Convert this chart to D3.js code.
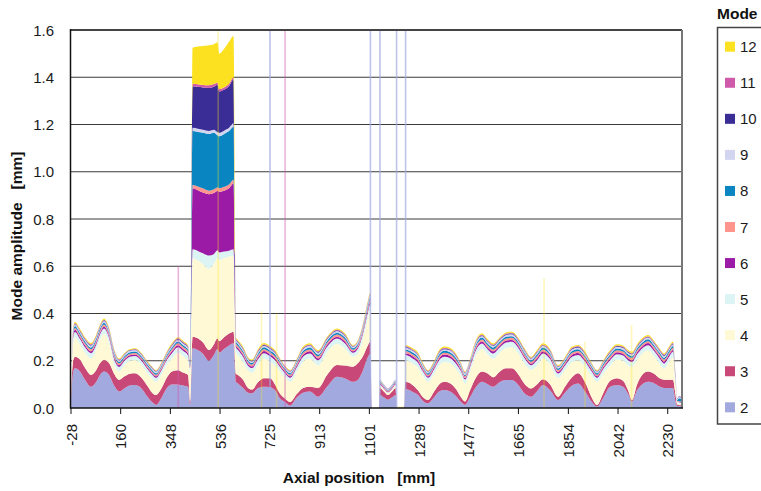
<!DOCTYPE html>
<html>
<head>
<meta charset="utf-8">
<script src="https://cdn.jsdelivr.net/npm/d3@7"></script>
<style>
  html, body { margin: 0; padding: 0; background: #fff; }
  svg { display: block; font-family: "Liberation Sans", Arial, Helvetica, sans-serif; }
</style>
</head>
<body>
<svg id="chart" width="761" height="491"></svg>
<script>
// Axial sample positions [mm]
const positions = [
  -28, -20, -13, 6, 25, 48, 67, 82, 97, 116,
  135, 154, 176, 195, 214, 237, 260, 279, 294, 313,
  335, 354, 377, 396, 415, 423, 432, 452, 471, 494,
  513, 526, 533, 551, 570, 587, 596, 604, 623, 642,
  657, 680, 702, 725, 744, 763, 782, 801, 827, 850,
  876, 907, 941, 979, 1009, 1039, 1058, 1077, 1096, 1105,
  1110, 1137, 1141, 1156, 1171, 1187, 1200, 1205, 1232, 1237,
  1262, 1285, 1304, 1323, 1346, 1365, 1384, 1406, 1429, 1448,
  1463, 1482, 1505, 1527, 1550, 1569, 1595, 1618, 1641, 1663,
  1690, 1713, 1735, 1758, 1785, 1815, 1841, 1868, 1891, 1917,
  1940, 1963, 1985, 2012, 2038, 2061, 2080, 2095, 2114, 2133,
  2156, 2178, 2201, 2216, 2235, 2250, 2259, 2266, 2273, 2283
];

// Modal amplitudes [mm] per mode, one value per axial position
const mode2 = [
  .035, .15, .168, .155, .12, .09, .11, .14, .154, .14,
  .095, .07, .085, .095, .097, .085, .05, .025, .013, .04,
  .085, .10, .10, .095, .09, .015, .253, .245, .23, .20,
  .225, .25, .235, .25, .265, .274, .11, .104, .085, .065,
  .062, .085, .09, .088, .075, .04, .025, .01, .045, .065,
  .07, .048, .09, .132, .125, .111, .12, .16, .217, .23,
  0, 0, .055, .045, .035, .045, .055, 0, 0, .08,
  .07, .055, .03, .02, .045, .07, .076, .07, .05, .025,
  .013, .045, .09, .111, .10, .09, .11, .118, .118, .10,
  .06, .048, .07, .097, .075, .034, .065, .095, .104, .07,
  .03, .006, .04, .09, .097, .09, .06, .028, .075, .10,
  .111, .105, .09, .085, .085, .085, .03, .008, .01, .01
];
const mode3 = [
  .010, .05, .049, .05, .05, .05, .05, .05, .049, .05,
  .05, .049, .05, .05, .05, .045, .045, .04, .042, .04,
  .045, .055, .06, .055, .05, .015, .049, .05, .048, .045,
  .045, .045, .048, .05, .05, .049, .035, .036, .035, .02,
  .016, .025, .036, .038, .025, .02, .015, .015, .015, .02,
  .02, .037, .05, .05, .055, .064, .07, .06, .05, .05,
  0, 0, .03, .025, .02, .025, .03, 0, 0, .031,
  .03, .02, .015, .014, .025, .03, .035, .035, .03, .02,
  .014, .03, .04, .043, .045, .04, .045, .05, .05, .045,
  .04, .035, .03, .025, .025, .014, .025, .035, .043, .04,
  .02, .007, .02, .025, .029, .025, .015, .006, .025, .04,
  .043, .04, .035, .035, .035, .035, .03, .007, .004, .004
];
const mode4 = [
  .005, .075, .083, .065, .065, .07, .085, .10, .111, .085,
  .04, .036, .05, .055, .056, .055, .055, .06, .056, .06,
  .055, .055, .075, .07, .06, .12, .332, .33, .332, .345,
  .342, .34, .342, .335, .325, .322, .09, .083, .075, .075,
  .072, .075, .084, .071, .08, .095, .09, .086, .095, .11,
  .119, .095, .097, .09, .071, .042, .043, .073, .115, .135,
  0, 0, .01, .008, .008, .008, .01, .008, .008, .091,
  .09, .095, .09, .077, .075, .08, .084, .085, .085, .09,
  .077, .08, .095, .097, .08, .079, .08, .087, .09, .09,
  .085, .079, .08, .087, .085, .079, .07, .065, .055, .065,
  .09, .098, .085, .065, .079, .085, .105, .139, .105, .09,
  .09, .075, .06, .046, .075, .096, .05, .008, .004, .004
];
const mode5 = [
  .003, .022, .022, .022, .022, .022, .022, .022, .022, .022,
  .022, .019, .017, .017, .017, .017, .017, .017, .017, .017,
  .019, .022, .022, .022, .022, .017, .038, .040, .045, .055,
  .040, .033, .033, .027, .026, .027, .022, .022, .022, .019,
  .019, .022, .022, .022, .022, .019, .017, .017, .019, .022,
  .022, .022, .022, .022, .022, .017, .019, .022, .025, .025,
  0, 0, .005, .004, .004, .004, .005, 0, 0, .022,
  .022, .022, .019, .017, .019, .022, .022, .022, .022, .019,
  .017, .019, .022, .022, .022, .022, .022, .022, .022, .022,
  .022, .019, .022, .022, .022, .019, .019, .022, .022, .022,
  .019, .017, .019, .022, .022, .022, .022, .022, .022, .022,
  .022, .022, .022, .022, .022, .022, .017, .004, .006, .005
];
const mode6 = [
  .001, .008, .009, .008, .009, .008, .009, .008, .009, .008,
  .009, .007, .006, .006, .006, .006, .006, .006, .006, .006,
  .007, .008, .009, .008, .009, .006, .258, .257, .257, .260,
  .258, .250, .257, .258, .264, .278, .008, .009, .008, .007,
  .007, .008, .009, .008, .009, .007, .006, .006, .007, .008,
  .009, .008, .009, .008, .009, .006, .007, .008, .010, .010,
  0, 0, .004, .004, .003, .004, .004, 0, 0, .008,
  .009, .008, .007, .006, .007, .008, .009, .008, .009, .007,
  .006, .007, .008, .009, .008, .009, .008, .009, .008, .009,
  .008, .007, .008, .009, .008, .007, .007, .008, .009, .008,
  .007, .006, .007, .008, .009, .008, .009, .008, .009, .008,
  .009, .008, .009, .008, .009, .008, .006, .002, .002, .002
];
const mode7 = [
  .001, .009, .008, .009, .008, .009, .008, .009, .008, .009,
  .008, .008, .007, .007, .007, .007, .007, .007, .007, .007,
  .008, .009, .008, .009, .008, .007, .014, .016, .018, .015,
  .016, .015, .015, .016, .016, .016, .009, .008, .009, .008,
  .008, .009, .008, .009, .008, .008, .007, .007, .008, .009,
  .008, .009, .008, .009, .008, .007, .008, .009, .010, .010,
  0, 0, .004, .004, .004, .004, .004, 0, 0, .009,
  .008, .009, .008, .007, .008, .009, .008, .009, .008, .008,
  .007, .008, .009, .008, .009, .008, .009, .008, .009, .008,
  .009, .008, .009, .008, .009, .008, .008, .009, .008, .009,
  .008, .007, .008, .009, .008, .009, .008, .009, .008, .009,
  .008, .009, .008, .009, .008, .009, .007, .002, .003, .003
];
const mode8 = [
  .001, .007, .008, .007, .008, .007, .008, .007, .008, .007,
  .008, .006, .006, .006, .006, .006, .006, .006, .006, .006,
  .006, .007, .008, .007, .008, .006, .228, .230, .235, .240,
  .239, .222, .220, .224, .226, .224, .007, .008, .007, .006,
  .006, .007, .008, .007, .008, .006, .006, .006, .006, .007,
  .008, .007, .008, .007, .008, .006, .006, .007, .009, .009,
  0, 0, .004, .003, .003, .003, .004, 0, 0, .007,
  .008, .007, .006, .006, .006, .007, .008, .007, .008, .006,
  .006, .006, .007, .008, .007, .008, .007, .008, .007, .008,
  .007, .006, .007, .008, .007, .006, .006, .007, .008, .007,
  .006, .006, .006, .007, .008, .007, .008, .007, .008, .007,
  .008, .007, .008, .007, .008, .007, .006, .004, .012, .010
];
const mode9 = [
  .002, .008, .007, .008, .007, .008, .007, .008, .007, .008,
  .007, .007, .007, .007, .007, .007, .007, .007, .007, .007,
  .007, .008, .007, .008, .007, .007, .014, .014, .013, .013,
  .013, .013, .015, .014, .014, .015, .008, .007, .008, .007,
  .007, .008, .007, .008, .007, .007, .007, .007, .007, .008,
  .007, .008, .007, .008, .007, .007, .007, .008, .009, .009,
  0, 0, .005, .004, .004, .004, .004, 0, 0, .008,
  .007, .008, .007, .007, .007, .008, .007, .008, .007, .007,
  .007, .007, .008, .007, .008, .007, .008, .007, .008, .007,
  .008, .007, .008, .007, .008, .007, .007, .008, .007, .008,
  .007, .007, .007, .008, .007, .008, .007, .008, .007, .008,
  .007, .008, .007, .008, .007, .008, .007, .003, .006, .005
];
const mode10 = [
  .001, .003, .003, .003, .003, .003, .003, .003, .003, .003,
  .003, .002, .002, .002, .002, .002, .002, .002, .002, .002,
  .002, .003, .003, .003, .003, .002, .176, .178, .179, .182,
  .182, .200, .175, .173, .177, .185, .003, .003, .003, .002,
  .002, .003, .003, .003, .003, .002, .002, .002, .002, .003,
  .003, .003, .003, .003, .003, .002, .002, .003, .004, .004,
  0, 0, .001, .001, .001, .001, .001, 0, 0, .003,
  .003, .003, .002, .002, .002, .003, .003, .003, .003, .002,
  .002, .002, .003, .003, .003, .003, .003, .003, .003, .003,
  .003, .002, .003, .003, .003, .002, .002, .003, .003, .003,
  .002, .002, .002, .003, .003, .003, .003, .003, .003, .003,
  .003, .003, .003, .003, .003, .003, .002, .001, .002, .001
];
const mode11 = [
  0, .003, .003, .003, .003, .003, .003, .003, .003, .003,
  .003, .002, .002, .002, .002, .002, .002, .002, .002, .002,
  .002, .003, .003, .003, .003, .002, .010, .010, .010, .011,
  .011, .010, .010, .010, .010, .010, .003, .003, .003, .002,
  .002, .003, .003, .003, .003, .002, .002, .002, .002, .003,
  .003, .003, .003, .003, .003, .002, .002, .003, .003, .003,
  0, 0, .001, .001, .001, .001, .001, 0, 0, .003,
  .003, .003, .002, .002, .002, .003, .003, .003, .003, .002,
  .002, .002, .003, .003, .003, .003, .003, .003, .003, .003,
  .003, .002, .003, .003, .003, .002, .002, .003, .003, .003,
  .002, .002, .002, .003, .003, .003, .003, .003, .003, .003,
  .003, .003, .003, .003, .003, .003, .002, .001, .001, .001
];
const mode12 = [
  .001, .005, .005, .005, .005, .005, .005, .005, .005, .005,
  .005, .004, .003, .003, .003, .003, .003, .003, .003, .003,
  .004, .005, .005, .005, .005, .003, .153, .160, .165, .169,
  .169, .170, .150, .163, .177, .175, .005, .005, .005, .004,
  .004, .005, .005, .005, .005, .004, .003, .003, .004, .005,
  .005, .005, .005, .005, .005, .003, .004, .005, .005, .005,
  0, 0, .001, .001, 0, .001, 0, 0, 0, .005,
  .005, .005, .004, .003, .004, .005, .005, .005, .005, .004,
  .003, .004, .005, .005, .005, .005, .005, .005, .005, .005,
  .005, .004, .005, .005, .005, .004, .004, .005, .005, .005,
  .004, .003, .004, .005, .005, .005, .005, .005, .005, .005,
  .005, .005, .005, .005, .005, .005, .003, 0, 0, 0
];

// Isolated single-sample peaks: position [mm], peak amplitude [mm], mode
const spikeAt   = [378, 529, 693, 725, 750, 782, 1105, 1141, 1204, 1238, 1762, 1917, 2093];
const spikeTop  = [0.60, 1.60, 0.41, 1.60, 0.40, 1.60, 1.60, 1.60, 1.60, 1.60, 0.55, 0.28, 0.35];
const spikeMode = ["11", "12", "12", "2", "12", "11", "2", "2", "2", "2", "12", "12", "12"];

const modeKeys = ["2", "3", "4", "5", "6", "7", "8", "9", "10", "11", "12"];
const modeSeries = [mode2, mode3, mode4, mode5, mode6, mode7, mode8, mode9, mode10, mode11, mode12];
const xTickValues = [-28, 160, 348, 536, 725, 913, 1101, 1289, 1477, 1665, 1854, 2042, 2230];
const yTickValues = [0, 0.2, 0.4, 0.6, 0.8, 1.0, 1.2, 1.4, 1.6];

const modeColor = {
  "2": "#a2a9df", "3": "#c84878", "4": "#fff9d5", "5": "#dcf4f4",
  "6": "#9b1ba6", "7": "#ff958c", "8": "#0985c1", "9": "#d3d5f0",
  "10": "#3a2e96", "11": "#d05aaa", "12": "#fbe11f"
};
// Peaks are thin, so they are drawn washed out
const spikeOpacity = { "2": 0.7, "11": 0.45, "12": 0.3 };

const svg = d3.select("#chart");
const plot = { left: 71, right: 682, top: 30, bottom: 408 };

const x = d3.scaleLinear().domain([-28, 2284]).range([plot.left, plot.right]);
const y = d3.scaleLinear().domain([0, 1.6]).range([plot.bottom, plot.top]);

// Table for the stack layout
const rows = positions.map((p, i) => {
  const r = { pos: p };
  modeKeys.forEach((k, j) => { r[k] = modeSeries[j][i]; });
  return r;
});
const stacked = d3.stack().keys(modeKeys)(rows);

svg.append("defs").append("clipPath").attr("id", "plotClip")
  .append("rect")
  .attr("x", plot.left).attr("y", plot.top)
  .attr("width", plot.right - plot.left).attr("height", plot.bottom - plot.top);

// Horizontal grid
svg.append("g").selectAll("line")
  .data(yTickValues.filter(v => v > 0 && v < 1.6))
  .join("line")
  .attr("x1", plot.left).attr("x2", plot.right)
  .attr("y1", d => y(d)).attr("y2", d => y(d))
  .attr("stroke", "#3a3a3a").attr("stroke-width", 1.2);

// Stacked mode areas
const area = d3.area()
  .x(d => x(d.data.pos))
  .y0(d => y(d[0]))
  .y1(d => y(d[1]))
  .curve(d3.curveMonotoneX);

const layers = svg.append("g").attr("clip-path", "url(#plotClip)");
layers.selectAll("path.layer")
  .data(stacked)
  .join("path")
  .attr("class", "layer")
  .attr("fill", d => modeColor[d.key])
  .attr("d", area);

// Single-sample peaks
layers.selectAll("rect.spike")
  .data(spikeAt.map((a, i) => ({ at: a, top: spikeTop[i], mode: spikeMode[i] })))
  .join("rect")
  .attr("class", "spike")
  .attr("x", d => x(d.at) - 0.8)
  .attr("width", 1.6)
  .attr("y", d => y(d.top))
  .attr("height", d => y(0) - y(d.top))
  .attr("fill", d => modeColor[d.mode])
  .attr("opacity", d => spikeOpacity[d.mode]);

// Frame
svg.append("line").attr("x1", plot.left - 0.5).attr("x2", plot.right)
  .attr("y1", plot.top).attr("y2", plot.top)
  .attr("stroke", "#444").attr("stroke-width", 2);
svg.append("line").attr("x1", plot.right).attr("x2", plot.right)
  .attr("y1", plot.top).attr("y2", plot.bottom)
  .attr("stroke", "#777").attr("stroke-width", 2);
svg.append("line").attr("x1", plot.left - 0.5).attr("x2", plot.left - 0.5)
  .attr("y1", plot.top - 1).attr("y2", plot.bottom + 0.5)
  .attr("stroke", "#111").attr("stroke-width", 1.5);
svg.append("line").attr("x1", plot.left - 1).attr("x2", plot.right + 1)
  .attr("y1", plot.bottom).attr("y2", plot.bottom)
  .attr("stroke", "#111").attr("stroke-width", 1.5);

// X axis ticks and labels
const xAxis = svg.append("g");
xAxis.selectAll("line")
  .data(xTickValues)
  .join("line")
  .attr("x1", d => x(d)).attr("x2", d => x(d))
  .attr("y1", plot.bottom).attr("y2", plot.bottom + 6)
  .attr("stroke", "#111").attr("stroke-width", 1);
xAxis.selectAll("text")
  .data(xTickValues)
  .join("text")
  .attr("transform", d => `translate(${x(d)},${plot.bottom + 16}) rotate(-90)`)
  .attr("text-anchor", "end")
  .attr("dominant-baseline", "central")
  .attr("font-size", 15)
  .attr("fill", "#1a1a1a")
  .text(d => d);

// Y axis labels
svg.append("g").selectAll("text")
  .data(yTickValues)
  .join("text")
  .attr("x", 54)
  .attr("y", d => y(d))
  .attr("text-anchor", "end")
  .attr("dominant-baseline", "central")
  .attr("font-size", 15)
  .attr("fill", "#1a1a1a")
  .text(d => d.toFixed(1));

// Axis titles
svg.append("text")
  .attr("x", 359).attr("y", 483)
  .attr("text-anchor", "middle")
  .attr("font-size", 15.5).attr("font-weight", "bold")
  .attr("fill", "#111")
  .style("white-space", "pre")
  .text("Axial position   [mm]");
svg.append("text")
  .attr("transform", "translate(22,236) rotate(-90)")
  .attr("text-anchor", "middle")
  .attr("font-size", 15.5).attr("font-weight", "bold")
  .attr("fill", "#111")
  .style("white-space", "pre")
  .text("Mode amplitude   [mm]");

// Legend
const legend = svg.append("g");
legend.append("text")
  .attr("x", 717).attr("y", 18.5)
  .attr("font-size", 15.5).attr("font-weight", "bold")
  .attr("fill", "#111")
  .text("Mode");
legend.append("rect")
  .attr("x", 717.5).attr("y", 27.5)
  .attr("width", 80).attr("height", 396.5)
  .attr("fill", "none").attr("stroke", "#444").attr("stroke-width", 1.5);
const legendKeys = modeKeys.slice().reverse();
const entry = legend.selectAll("g.entry")
  .data(legendKeys)
  .join("g")
  .attr("class", "entry")
  .attr("transform", (d, i) => `translate(0,${46.7 + i * 36.06})`);
entry.append("rect")
  .attr("x", 725).attr("y", -5).attr("width", 10).attr("height", 10)
  .attr("fill", d => modeColor[d]);
entry.append("text")
  .attr("x", 740).attr("y", 0)
  .attr("dominant-baseline", "central")
  .attr("font-size", 15)
  .attr("fill", "#1a1a1a")
  .text(d => d);
</script>
</body>
</html>
